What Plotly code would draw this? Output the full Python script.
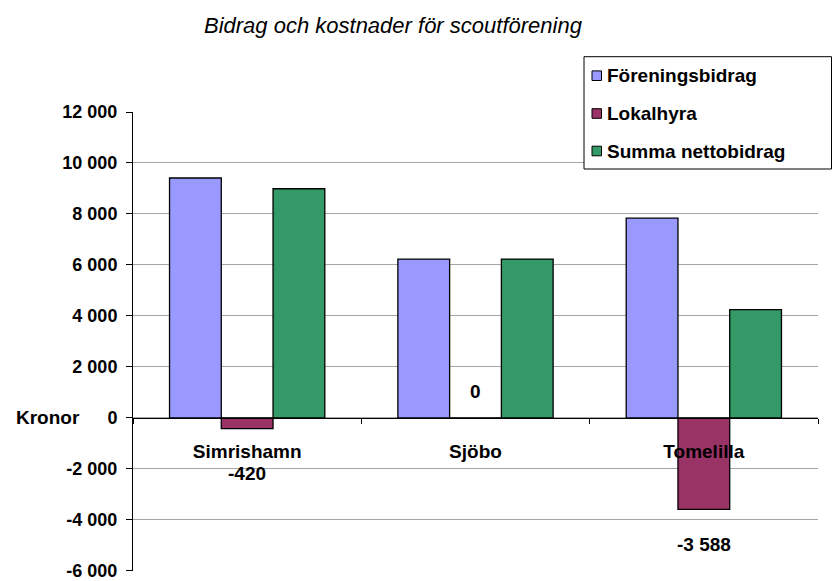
import plotly.graph_objects as go

# ---------------- data ----------------
categories = ["Simrishamn", "Sjöbo", "Tomelilla"]
series_names = ["Föreningsbidrag", "Lokalhyra", "Summa nettobidrag"]
foreningsbidrag = [9410, 6232, 7833]
lokalhyra = [-420, 0, -3588]
summa_nettobidrag = [8990, 6232, 4245]
y_tick_values = [-6000, -4000, -2000, 0, 2000, 4000, 6000, 8000, 10000, 12000]
chart_title = "Bidrag och kostnader för scoutförening"
y_axis_title = "Kronor"

# ---------------- style ----------------
W, H = 832, 581
PL, PR, PT, PB = 133, 818, 112, 571  # plot area in pixels
FONT = "Liberation Sans, Arial, Helvetica, sans-serif"
LBL = 19
colors = ["#9999FF", "#993366", "#339966"]
label_yshift = [-45, 26, -35]  # pixel offsets for Lokalhyra value labels
y_min, y_max = y_tick_values[0] - 6, y_tick_values[-1]


def fmt(v):
    s = f"{abs(int(v)):,}".replace(",", " ")
    return ("-" if v < 0 else "") + s


def px_x(px):
    return (px - PL) / (PR - PL)


def px_y(py):
    return (PB - py) / (PB - PT)


fig = go.Figure()
for name, vals, col in zip(series_names, [foreningsbidrag, lokalhyra, summa_nettobidrag], colors):
    fig.add_trace(go.Bar(
        name=name, x=categories, y=vals,
        marker=dict(color=col, line=dict(color="black", width=1.3)),
        showlegend=False, hoverinfo="skip",
    ))

annotations = []
# title
annotations.append(dict(
    text=chart_title, xref="paper", yref="paper", x=px_x(393.5), y=px_y(26),
    xanchor="center", yanchor="middle", showarrow=False,
    font=dict(family=FONT, size=22, style="italic", color="black"),
))
# y-axis title "Kronor"
annotations.append(dict(
    text=y_axis_title, xref="paper", yref="y", x=px_x(47.5), y=0,
    xanchor="center", yanchor="middle", showarrow=False,
    font=dict(family=FONT, size=LBL, weight="bold", color="black"),
))
# Lokalhyra value labels
for cat, v, ys in zip(categories, lokalhyra, label_yshift):
    annotations.append(dict(
        text=fmt(v), x=cat, y=v, xref="x", yref="y", yshift=ys,
        xanchor="center", yanchor="middle", showarrow=False,
        font=dict(family=FONT, size=LBL, weight="bold", color="black"),
    ))

# custom legend
shapes = []
lg_left, lg_right, lg_top, lg_bottom = 584, 831.5, 56.7, 169
shapes.append(dict(
    type="rect", xref="paper", yref="paper",
    x0=px_x(lg_left), x1=px_x(lg_right), y0=px_y(lg_bottom), y1=px_y(lg_top),
    line=dict(color="black", width=1), fillcolor="white", layer="above",
))
row_centers = [75.7, 113.5, 151.0]
for name, col, cy in zip(series_names, colors, row_centers):
    shapes.append(dict(
        type="rect", xref="paper", yref="paper",
        x0=px_x(592), x1=px_x(601.5), y0=px_y(cy + 4.8), y1=px_y(cy - 4.8),
        line=dict(color="black", width=1), fillcolor=col, layer="above",
    ))
    annotations.append(dict(
        text=name, xref="paper", yref="paper", x=px_x(605), y=px_y(cy),
        xanchor="left", yanchor="middle", showarrow=False,
        font=dict(family=FONT, size=LBL, weight="bold", color="black"),
    ))

fig.update_layout(
    width=W, height=H,
    margin=dict(l=PL, r=W - PR, t=PT, b=H - PB, pad=0, autoexpand=False),
    paper_bgcolor="white", plot_bgcolor="white",
    barmode="group", bargap=0.32, bargroupgap=0,
    separators=", ",
    showlegend=False,
    annotations=annotations,
    shapes=shapes,
    font=dict(family=FONT, color="black"),
)
fig.update_xaxes(
    type="category",
    anchor="free", position=(0 - y_min) / (y_max - y_min),
    showline=True, linecolor="black", linewidth=1,
    ticks="outside", tickson="boundaries", ticklen=5, tickcolor="black", tickwidth=1,
    showgrid=False, zeroline=False, automargin=False,
    tickfont=dict(family=FONT, size=LBL, weight="bold", color="black"),
    ticklabelstandoff=16,
)
fig.update_yaxes(
    range=[y_min, y_max],
    tickvals=y_tick_values, ticktext=[fmt(v) for v in y_tick_values],
    showgrid=True, gridcolor="#a6a6a6", gridwidth=1,
    showline=True, linecolor="black", linewidth=1,
    ticks="outside", ticklen=6, tickcolor="black",
    zeroline=False, automargin=False,
    tickfont=dict(family=FONT, size=18, weight="bold", color="black"),
    ticklabelstandoff=5,
    ticklabeloverflow="allow",
)

fig.write_html(
    "out.html",
    config={"displayModeBar": False, "staticPlot": True},
    post_script="document.body.style.margin='0px';document.body.style.overflow='hidden';",
)
